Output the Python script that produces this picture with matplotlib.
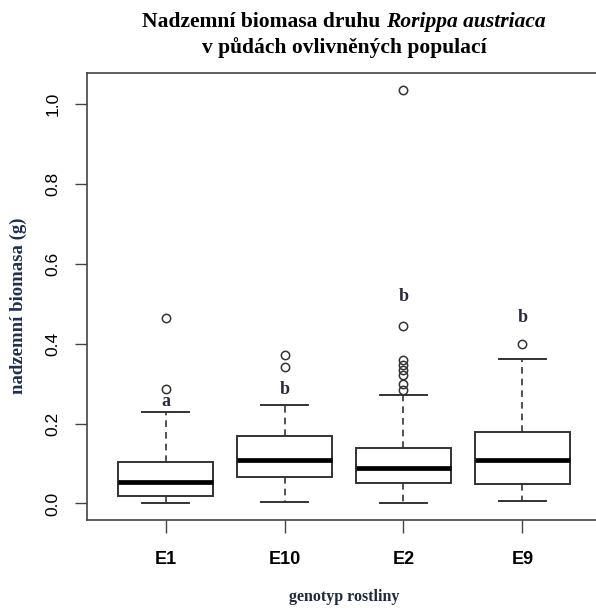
import matplotlib
matplotlib.use("Agg")

import matplotlib.pyplot as plt

# genotypes and box statistics
genotypes = ["E1", "E10", "E2", "E9"]
whislo = [0.001, 0.003, 0.001, 0.006]
q1 = [0.0175, 0.066, 0.051, 0.0476]
med = [0.0534, 0.1095, 0.0894, 0.1095]
q3 = [0.1035, 0.169, 0.1395, 0.179]
whishi = [0.229, 0.247, 0.2707, 0.3626]
fliers = [
    [0.287, 0.463],
    [0.342, 0.371],
    [0.285, 0.298, 0.321, 0.333, 0.346, 0.360, 0.444, 1.035],
    [0.400],
]
letters = ["a", "b", "b", "b"]
letter_y = [0.254, 0.285, 0.519, 0.465]
yticks = [0.0, 0.2, 0.4, 0.6, 0.8, 1.0]

W, H = 596, 612
fig = plt.figure(figsize=(W / 100, H / 100), dpi=100)
ax = fig.add_axes([87 / W, (H - 520) / H, (601 - 87) / W, (520 - 73) / H])

stats = []
for i, g in enumerate(genotypes):
    stats.append(dict(label=g, whislo=whislo[i], q1=q1[i], med=med[i],
                      q3=q3[i], whishi=whishi[i], fliers=fliers[i]))

edge = "#333333"
ax.bxp(stats, positions=range(1, 5), widths=0.8, patch_artist=True,
       boxprops=dict(facecolor="white", edgecolor=edge, linewidth=1.4),
       medianprops=dict(color="black", linewidth=3.4),
       whiskerprops=dict(color=edge, linewidth=1.2, linestyle=(0, (4, 3))),
       capprops=dict(color=edge, linewidth=1.4),
       capwidths=0.4,
       flierprops=dict(marker="o", markersize=6, markerfacecolor="none",
                       markeredgecolor=edge, markeredgewidth=1.1))

for i, (t, y) in enumerate(zip(letters, letter_y)):
    ax.text(i + 1, y, t, ha="center", va="center", fontsize=13,
            fontweight="bold", family="Liberation Serif", color="#2a2a40")

ax.set_xlim(0.34, 4.66)
ax.set_ylim(-0.0414, 1.0774)
ax.set_yticks(yticks)
ax.set_yticklabels(["%.1f" % v for v in yticks], rotation=90, va="center",
                   fontsize=12.5, family="Liberation Sans")
ax.set_xticks(range(1, 5))
ax.set_xticklabels(genotypes, fontsize=13, fontweight="bold",
                   family="Liberation Sans")
ax.tick_params(axis="both", length=9, width=1, color="#444444")
ax.tick_params(axis="x", pad=13)
ax.tick_params(axis="y", pad=10)
for s in ax.spines.values():
    s.set_color("#444444")
    s.set_linewidth(1.2)

# title, with italic species name
fig.canvas.draw()
r = fig.canvas.get_renderer()
ty1 = 1 - 22 / H
parts = [("Nadzemní biomasa druhu ", "normal"), ("Rorippa austriaca", "italic")]
objs = []
for s, st in parts:
    objs.append(fig.text(0, ty1, s, fontsize=15.5, fontweight="bold", style=st,
                         family="Liberation Serif", va="center", ha="left"))
widths = [o.get_window_extent(r).width for o in objs]
x0 = 344 - sum(widths) / 2
for o, w in zip(objs, widths):
    o.set_x(x0 / W)
    x0 += w
fig.text(344 / W, 1 - 48 / H, "v půdách ovlivněných populací", fontsize=15.5,
         fontweight="bold", family="Liberation Serif", ha="center", va="center")

fig.text(18 / W, 1 - 306 / H, "nadzemní biomasa (g)", rotation=90, fontsize=13.5,
         fontweight="bold", family="Liberation Serif", color="#1f2f50",
         ha="center", va="center")
fig.text(344 / W, 1 - 597 / H, "genotyp rostliny", fontsize=11.5,
         fontweight="bold", family="Liberation Serif", color="#1f2a3a",
         ha="center", va="center")

fig.savefig("out.png", dpi=100)
